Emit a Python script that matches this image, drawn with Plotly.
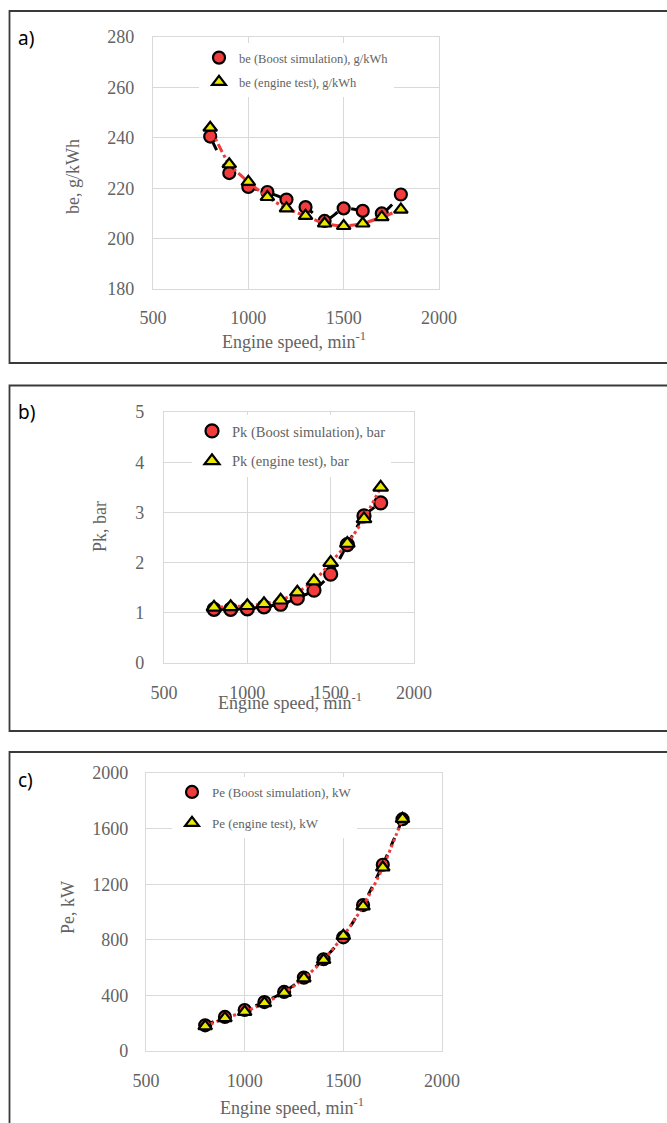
import plotly.graph_objects as go

W, H = 667, 1123

# ---------------- data ----------------
speed = [800, 900, 1000, 1100, 1200, 1300, 1400, 1500, 1600, 1700, 1800]

be_sim = [240.5, 226, 220.5, 218.5, 215.5, 212.5, 207, 212, 211, 210, 217.5]
be_test = [244, 229.5, 222.5, 216.5, 212, 209, 206, 205, 206, 208.5, 211.5]

pk_sim = [1.07, 1.07, 1.08, 1.12, 1.17, 1.29, 1.45, 1.77, 2.36, 2.93, 3.19]
pk_test = [1.11, 1.12, 1.14, 1.18, 1.25, 1.41, 1.63, 2.0, 2.38, 2.87, 3.5]

pe_sim = [185, 245, 295, 352, 425, 528, 660, 818, 1050, 1340, 1668]
pe_test = [178, 236, 282, 345, 418, 522, 655, 828, 1040, 1320, 1670]

x_ticks = [500, 1000, 1500, 2000]
be_ticks = [180, 200, 220, 240, 260, 280]
pk_ticks = [0, 1, 2, 3, 4, 5]
pe_ticks = [0, 400, 800, 1200, 1600, 2000]

names = {
    "a": ("be (Boost simulation), g/kWh", "be (engine test), g/kWh"),
    "b": ("Pk (Boost simulation), bar", "Pk (engine test), bar"),
    "c": ("Pe (Boost simulation), kW", "Pe (engine test), kW"),
}


def px(x):
    return x / W


def py(y):
    return 1 - y / H


SERIF = "Liberation Serif"
GRAY = "#636363"
GRID = "#d9d9d9"
RED = "#f03c3c"
YEL = "#e8e800"

fig = go.Figure()

panels = [
    dict(k="a", xa="x", ya="y", ys=be_sim, yt=be_test, yticks=be_ticks, box=(153, 439, 37, 289),
         leg=(199, 43), lfs=12.5, gap=5, ytitle="be, g/kWh", ytp=(73, 177), xtp=(294, 340), lab=38,
         sdash="longdash", tdash="dashdot", ms=12, xstand=12, ystand=14),
    dict(k="b", xa="x2", ya="y2", ys=pk_sim, yt=pk_test, yticks=pk_ticks, box=(164, 414, 412, 663),
         leg=(192, 415), lfs=14.5, gap=8, ytitle="Pk, bar", ytp=(100, 527), xtp=(290, 701), lab=412,
         sdash="dash", tdash="dot", ms=13, xstand=13, ystand=15),
    dict(k="c", xa="x3", ya="y3", ys=pe_sim, yt=pe_test, yticks=pe_ticks, box=(146, 442, 773, 1051),
         leg=(172, 777), lfs=13, gap=11, ytitle="Pe, kW", ytp=(68, 908), xtp=(292, 1106), lab=780,
         sdash="dash", tdash="dot", ms=12, xstand=13, ystand=13),
]

annotations = []
shapes = []

for i, p in enumerate(panels):
    legname = "legend" if i == 0 else f"legend{i+1}"
    s_name, t_name = names[p["k"]]
    fig.add_trace(go.Scatter(x=speed, y=p["ys"], mode="lines", xaxis=p["xa"], yaxis=p["ya"],
                             line=dict(color="black", width=3, dash=p["sdash"], shape="spline", smoothing=0.6),
                             showlegend=False, hoverinfo="skip"))
    fig.add_trace(go.Scatter(x=speed, y=p["ys"], mode="markers", xaxis=p["xa"], yaxis=p["ya"],
                             name=s_name, legend=legname, legendgroup=p["k"] + "s",
                             marker=dict(symbol="circle", size=p["ms"], color=RED,
                                         line=dict(color="black", width=2.2))))
    fig.add_trace(go.Scatter(x=speed, y=p["yt"], mode="lines", xaxis=p["xa"], yaxis=p["ya"],
                             line=dict(color=RED, width=3, dash=p["tdash"], shape="spline", smoothing=0.6),
                             showlegend=False, hoverinfo="skip"))
    fig.add_trace(go.Scatter(x=speed, y=p["yt"], mode="markers", xaxis=p["xa"], yaxis=p["ya"],
                             name=t_name, legend=legname, legendgroup=p["k"] + "t",
                             marker=dict(symbol="triangle-up", size=p["ms"], color=YEL,
                                         line=dict(color="black", width=2.2))))

    l, r, t, b = p["box"]
    xkey = "xaxis" if i == 0 else f"xaxis{i+1}"
    ykey = "yaxis" if i == 0 else f"yaxis{i+1}"
    fig.layout[xkey] = dict(domain=[px(l), px(r)], range=[500, 2000], tickvals=x_ticks,
                            anchor=p["ya"], showgrid=True, gridcolor=GRID, gridwidth=1.3,
                            showline=True, linecolor=GRID, linewidth=1.3, mirror=True,
                            zeroline=False, ticks="", ticklabelstandoff=p["xstand"], automargin=False,
                            tickfont=dict(family=SERIF, size=18, color=GRAY), fixedrange=True)
    fig.layout[ykey] = dict(domain=[py(b), py(t)], range=[p["yticks"][0], p["yticks"][-1]],
                            tickvals=p["yticks"], anchor=p["xa"], showgrid=True, gridcolor=GRID,
                            gridwidth=1.3, showline=True, linecolor=GRID, linewidth=1.3, mirror=True,
                            zeroline=False, ticks="", ticklabelstandoff=p["ystand"], automargin=False,
                            tickfont=dict(family=SERIF, size=18, color=GRAY), fixedrange=True)
    fig.layout[legname] = dict(x=px(p["leg"][0]), y=py(p["leg"][1]), xanchor="left", yanchor="top",
                               bgcolor="white", borderwidth=0, traceorder="grouped",
                               tracegroupgap=p["gap"], itemwidth=30,
                               font=dict(family=SERIF, size=p["lfs"], color=GRAY))

    annotations.append(dict(x=px(p["xtp"][0]), y=py(p["xtp"][1]), xref="paper", yref="paper",
                            xanchor="center", yanchor="middle",
                            text="Engine speed, min<sup>-1</sup>", showarrow=False,
                            font=dict(family=SERIF, size=18, color=GRAY)))
    annotations.append(dict(x=px(p["ytp"][0]), y=py(p["ytp"][1]), xref="paper", yref="paper",
                            xanchor="center", yanchor="middle",
                            text=p["ytitle"], textangle=-90, showarrow=False,
                            font=dict(family=SERIF, size=18, color=GRAY)))
    annotations.append(dict(x=px(16), y=py(p["lab"]), xref="paper", yref="paper",
                            xanchor="left", yanchor="middle",
                            text=p["k"] + ")", showarrow=False,
                            font=dict(family="Noto Sans", size=19, color="black")))

frames = [(11, 363), (385.5, 731), (752, 1140)]
for top, bot in frames:
    shapes.append(dict(type="rect", xref="paper", yref="paper", x0=px(9.5), x1=px(W + 10),
                       y0=py(bot), y1=py(top), line=dict(color="#3a3a3a", width=1.8),
                       fillcolor="rgba(0,0,0,0)", layer="above"))

fig.update_layout(width=W, height=H, margin=dict(l=0, r=0, t=0, b=0, autoexpand=False),
                  paper_bgcolor="white", plot_bgcolor="white",
                  annotations=annotations, shapes=shapes)

fig.write_html("out.html", config={"displayModeBar": False},
               post_script="document.body.style.margin='0';document.body.style.overflow='hidden';")
